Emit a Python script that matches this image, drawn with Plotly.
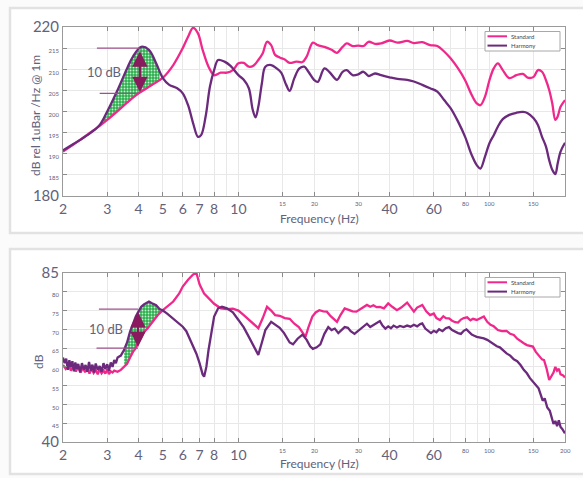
import numpy as np
import plotly.graph_objects as go

# ---------------- data: top chart (dB rel 1uBar/Hz @ 1m) ----------------
top_std_f = [2, 2.2, 2.5, 2.8, 3, 3.3, 3.6, 4, 4.5, 5, 5.5, 6, 6.3, 6.6, 6.9, 7.2, 7.6, 8, 8.5, 9,
             9.5, 10, 10.5, 11, 11.5, 12, 12.5, 13, 13.5, 14, 14.6, 15.3, 16, 17, 18, 18.7, 19.8, 20.7,
             22, 23.5, 24.7, 26, 27, 28.5, 30, 31.5, 33, 35, 37, 40, 43, 47, 50, 54, 58, 62, 66, 70,
             75, 80, 85, 89, 92, 96, 100, 104, 108, 113, 120, 128, 136, 142, 150, 156, 162, 168, 173,
             178, 183, 187, 192, 200]
top_std_db = [190.5, 192.2, 194.5, 196.6, 198.0, 200.1, 202.1, 204.3, 206.2, 208.0, 211.0, 215.0, 217.7,
              219.8, 218.5, 214.6, 210.6, 208.6, 209.2, 209.2, 209.8, 211.4, 211.5, 210.6, 210.9, 212.2,
              213.8, 216.5, 215.7, 213.4, 212.8, 212.3, 211.5, 211.8, 211.7, 213.0, 216.3, 215.7, 215.3,
              214.6, 213.9, 215.3, 216.1, 215.5, 215.6, 215.5, 216.5, 216.0, 216.1, 216.8, 216.3, 216.7,
              216.2, 216.4, 215.7, 215.5, 214.2, 212.6, 210.2, 207.4, 203.9, 201.9, 201.5, 203.5, 207.4,
              210.2, 211.4, 209.8, 207.9, 208.6, 208.9, 208.0, 208.2, 209.8, 209.4, 207.4, 205.1, 201.9,
              198.0, 198.8, 201.1, 202.7]

top_har_f = [2, 2.2, 2.5, 2.8, 3, 3.3, 3.6, 3.8, 4.1, 4.4, 4.7, 5, 5.3, 5.7, 6, 6.3, 6.6, 6.9, 7.1, 7.4,
             7.7, 8, 8.3, 8.8, 9.3, 10, 10.5, 11, 11.4, 11.7, 12, 12.4, 12.8, 13.5, 14.2, 14.8, 15.5, 16,
             16.7, 17.5, 18.3, 19, 20, 20.7, 22, 23, 24.7, 26, 27, 28.5, 30, 31.5, 33, 35, 37, 40, 43, 47,
             50, 54, 58, 62, 66, 70, 75, 80, 85, 89, 92, 96, 100, 104, 108, 113, 120, 128, 136, 142, 150,
             156, 162, 168, 173, 178, 183, 187, 192, 200]
top_har_db = [190.8, 192.3, 194.4, 196.8, 200.0, 205.1, 210.2, 213.0, 215.3, 214.6, 211.4, 207.9, 206.3,
              205.5, 204.3, 201.5, 197.2, 194.0, 194.4, 198.8, 205.9, 209.8, 212.2, 211.8, 210.8, 208.6,
              207.5, 205.5, 200.4, 198.6, 201.1, 206.7, 210.6, 211.0, 210.2, 209.2, 206.3, 204.9, 207.9,
              210.2, 210.6, 209.4, 207.5, 207.0, 210.2, 209.4, 207.5, 209.4, 209.8, 208.6, 208.8, 209.4,
              208.4, 209.0, 208.6, 208.1, 207.7, 207.5, 207.1, 206.3, 205.5, 204.7, 202.7, 200.8, 197.6,
              194.0, 189.7, 187.3, 186.5, 189.3, 192.5, 194.4, 196.4, 198.2, 199.2, 199.7, 199.9, 199.6,
              198.4, 196.8, 194.0, 191.7, 188.5, 186.2, 185.2, 187.7, 190.5, 192.6]

# ---------------- data: bottom chart (dB) ----------------
bot_std_f = [2.0, 2.05, 2.1, 2.15, 2.2, 2.25, 2.3, 2.35, 2.4, 2.45, 2.5, 2.55, 2.6, 2.65, 2.7, 2.75, 2.8,
             2.85, 2.9, 2.95, 3.0, 3.05, 3.1, 3.15, 3.2, 3.3, 3.4, 3.5, 3.6, 3.7, 3.8, 3.9, 4.0, 4.1, 4.2,
             4.35, 4.5, 4.65, 4.8, 5.0, 5.2, 5.5, 5.8, 6.0, 6.3, 6.6, 6.8, 7.0, 7.3, 7.6, 8.0, 8.5, 9.0,
             9.5, 10.0, 10.5, 11, 11.5, 12, 12.5, 13, 13.5, 14, 14.6, 15.3, 16, 16.7, 17.4, 18.0, 18.5,
             19.0, 19.7, 20.3, 21, 21.8, 22.5, 23.3, 24, 24.7, 25.5, 26.5, 27.5, 28.5, 29.5, 30.5, 31.5,
             32.5, 33.5, 34.5, 35.5, 36.6, 38, 39.5, 41, 42.8, 44.5, 46, 47, 48.5, 50, 51.5, 53, 54, 56,
             58, 60, 61.5, 63.5, 65.5, 67, 69, 71, 73, 75, 77, 79, 81.5, 84, 86, 89, 92, 95, 98, 101, 104,
             108, 112, 117, 121, 125, 129, 133, 137, 141, 145, 149, 153, 158, 162, 165, 169, 173, 176,
             180, 183, 186, 189, 192, 196, 200]
bot_std_db = [60.5, 59.5, 60.8, 59.0, 60.2, 58.8, 60.0, 58.5, 59.8, 58.6, 59.6, 58.2, 59.5, 58.4, 59.2,
              58.0, 59.4, 58.3, 59.0, 58.2, 59.3, 58.1, 58.8, 58.5, 59.0, 58.7, 59.2, 60.0, 60.8, 62.5,
              64.0, 65.0, 66.8, 68.0, 69.2, 70.3, 71.6, 72.8, 74.0, 75.1, 76.0, 77.4, 79.5, 81.4, 83.2,
              84.6, 85.0, 82.0, 79.5, 78.3, 76.8, 75.6, 75.4, 75.5, 75.0, 73.8, 72.6, 71.6, 70.3, 73.0,
              76.0, 75.0, 73.8, 73.6, 73.0, 72.8, 71.5, 70.6, 69.2, 68.0, 70.5, 73.4, 74.5, 75.1, 74.8,
              74.7, 73.5, 72.8, 72.0, 73.8, 75.6, 75.2, 74.8, 74.7, 75.3, 75.9, 76.5, 76.0, 76.4, 75.9,
              76.0, 75.6, 76.9, 76.0, 75.1, 75.8, 76.5, 77.1, 75.9, 74.7, 75.8, 76.2, 76.5, 74.8, 73.8,
              74.2, 73.0, 72.5, 73.5, 73.0, 72.9, 72.3, 71.9, 71.8, 72.6, 73.0, 73.2, 72.4, 72.8, 72.5,
              73.0, 73.4, 72.0, 71.2, 70.8, 69.8, 69.5, 69.6, 68.8, 68.5, 67.5, 66.8, 66.3, 65.8, 65.6,
              65.4, 64.0, 62.7, 62.0, 61.8, 59.5, 56.5, 57.5, 58.5, 60.0, 59.0, 59.5, 58.0, 57.8, 57.2]

bot_har_f = [2.0, 2.03, 2.06, 2.09, 2.12, 2.15, 2.18, 2.21, 2.24, 2.27, 2.3, 2.34, 2.38, 2.42, 2.46, 2.5,
             2.54, 2.58, 2.62, 2.66, 2.7, 2.75, 2.8, 2.85, 2.9, 2.95, 3.0, 3.05, 3.1, 3.15, 3.2, 3.25, 3.3,
             3.4, 3.5, 3.6, 3.7, 3.8, 3.9, 4.0, 4.1, 4.2, 4.3, 4.4, 4.5, 4.6, 4.7, 4.85, 5.0, 5.2, 5.5,
             5.8, 6.0, 6.2, 6.5, 6.8, 7.0, 7.2, 7.3, 7.45, 7.6, 7.8, 8.0, 8.3, 8.6, 9.0, 9.5, 10, 10.5, 11,
             11.5, 12, 12.4, 12.8, 13.5, 14, 14.6, 15.2, 16.0, 16.5, 17.2, 18.0, 18.7, 19.3, 19.8, 20.5,
             21.2, 22.0, 22.8, 23.5, 24.2, 25.0, 25.7, 26.5, 27.3, 28.0, 29.0, 29.7, 30.5, 31.5, 32.5,
             33.5, 34.5, 35.5, 36.6, 37.5, 38.5, 39.5, 40.5, 41.5, 42.8, 44, 45.5, 47, 48.5, 50, 51.5, 53,
             54, 55.5, 57, 58.5, 60, 61.5, 63, 65, 67, 69, 71, 73, 75, 77, 79, 81, 83, 85, 87, 89, 92, 95,
             98, 101, 104, 107, 110, 113, 117, 121, 125, 129, 133, 137, 141, 145, 149, 153, 157, 160, 163,
             166, 170, 174, 177, 180, 183, 186, 189, 192, 195, 198, 200]
bot_har_db = [62.5, 61.0, 62.2, 59.2, 61.8, 60.0, 61.5, 58.8, 61.2, 59.5, 60.8, 58.6, 61.0, 59.3, 60.5,
              58.7, 61.3, 59.0, 60.6, 58.5, 60.9, 59.2, 60.2, 58.7, 61.0, 59.4, 60.7, 59.0, 61.2, 60.0,
              61.8, 61.0, 62.5, 63.0, 64.5, 66.5, 69.4, 71.5, 73.4, 74.8, 76.0, 76.6, 76.9, 77.4, 77.0,
              76.8, 76.4, 75.4, 75.0, 74.2, 72.9, 71.5, 70.7, 69.5, 66.5, 63.5, 61.0, 58.0, 57.4, 60.0,
              64.5, 69.5, 73.4, 75.6, 76.0, 75.6, 74.5, 72.5, 70.5, 68.0, 65.5, 63.2, 66.5, 69.8, 72.0,
              71.2, 70.4, 69.0, 66.5, 66.0, 67.5, 68.6, 67.2, 65.5, 64.8, 65.2, 66.0, 68.8, 70.6, 69.8,
              70.2, 69.0, 69.8, 70.6, 70.4, 69.5, 68.8, 69.4, 70.0, 70.8, 71.5, 70.6, 71.2, 71.8, 72.2,
              71.0, 70.2, 70.8, 70.3, 71.0, 70.5, 70.9, 70.6, 71.0, 70.7, 71.2, 70.8, 71.4, 71.6, 70.2,
              69.6, 69.0, 69.6, 69.2, 70.0, 69.5, 70.3, 70.6, 69.8, 69.3, 69.0, 68.8, 69.6, 70.0, 69.3,
              68.6, 68.3, 68.0, 67.8, 67.6, 67.2, 66.6, 66.0, 65.5, 65.2, 64.4, 63.6, 63.0, 62.0, 61.5,
              60.5, 59.2, 58.3, 57.0, 56.2, 55.2, 54.3, 52.5, 51.0, 51.6, 49.2, 48.3, 46.5, 44.8, 45.6,
              44.2, 45.8, 44.0, 43.5, 42.5, 42.3]

# ---------------- axis ticks ----------------
top_x_ticks = [2, 3, 4, 5, 6, 7, 8, 10, 15, 20, 30, 40, 60, 80, 100, 150]
bot_x_ticks = [2, 3, 4, 5, 6, 7, 8, 10, 15, 20, 30, 40, 60, 80, 100, 150, 200]
big_x_labels = [2, 3, 4, 5, 6, 7, 8, 10, 40, 60]
top_y_ticks = [180, 185, 190, 195, 200, 205, 210, 215, 220]
bot_y_ticks = [40, 45, 50, 55, 60, 65, 70, 75, 80, 85]
minor_x = [2, 3, 4, 5, 6, 7, 8, 9, 10, 20, 30, 40, 50, 60, 70, 80, 90, 100, 200]

PINK = "#f0288c"
PURPLE = "#6b2a7c"
MAROON = "#8a1a5e"
REFLINE = "#a0508e"
TXT = "#62627a"
FONT = "Lato"
W, H = 583, 478


def PX(x):
    return x / W


def PY(y):
    return 1 - y / H


def lab(v, big):
    s = str(v)
    return s if v in big else "<span style='font-size:6px'>%s</span>" % s


fig = go.Figure()


def add_fill(fu, du, fl, dl, fmin, fmax, xa, ya):
    g = np.exp(np.linspace(np.log(fmin), np.log(fmax), 80))
    u = np.interp(np.log(g), np.log(fu), du)
    lo = np.interp(np.log(g), np.log(fl), dl)
    xs = np.concatenate([g, g[::-1], g[:1]])
    ys = np.concatenate([u, lo[::-1], u[:1]])
    fig.add_trace(go.Scatter(
        x=xs, y=ys, mode="lines", fill="toself", line=dict(width=0),
        fillcolor="#2aae4c",
        fillpattern=dict(shape=".", bgcolor="#2aae4c", fgcolor="#c9f0d2", size=3, solidity=0.3,
                         fillmode="replace"),
        xaxis=xa, yaxis=ya, showlegend=False, hoverinfo="skip"))


# fills
add_fill(top_har_f, top_har_db, top_std_f, top_std_db, 2.75, 4.85, "x", "y")
add_fill(bot_har_f, bot_har_db, bot_std_f, bot_std_db, 3.5, 4.9, "x2", "y2")

# curves
for xa, ya, fs, ds, fh, dh in [("x", "y", top_std_f, top_std_db, top_har_f, top_har_db),
                               ("x2", "y2", bot_std_f, bot_std_db, bot_har_f, bot_har_db)]:
    shape = "spline" if xa == "x" else "linear"
    fig.add_trace(go.Scatter(x=fs, y=ds, mode="lines", name="Standard",
                             line=dict(color=PINK, width=2.3, shape=shape),
                             xaxis=xa, yaxis=ya, showlegend=False))
    fig.add_trace(go.Scatter(x=fh, y=dh, mode="lines", name="Harmony",
                             line=dict(color=PURPLE, width=2.3, shape=shape),
                             xaxis=xa, yaxis=ya, showlegend=False))

# reference lines for the 10 dB annotation
for xa, ya, x0s, x1, ys in [("x", "y", [2.73, 2.8], 4.05, [215.0, 204.3]),
                            ("x2", "y2", [2.78, 2.72], 3.98, [75.4, 65.0])]:
    for x0, yv in zip(x0s, ys):
        fig.add_trace(go.Scatter(x=[x0, x1], y=[yv, yv], mode="lines",
                                 line=dict(color=REFLINE, width=1.3),
                                 xaxis=xa, yaxis=ya, showlegend=False, hoverinfo="skip"))

annotations = []
# arrows
for xref, yref, fx, y0, y1 in [("x", "y", 4.05, 204.6, 214.6), ("x2", "y2", 3.98, 65.3, 75.0)]:
    annotations.append(dict(x=np.log10(fx), y=y0, ax=np.log10(fx), ay=y1, xref=xref, yref=yref,
                            axref=xref, ayref=yref, text="", showarrow=True, arrowhead=2,
                            startarrowhead=2, arrowside="end+start", arrowsize=1.4,
                            startarrowsize=1.4, arrowwidth=2.2, arrowcolor=MAROON))


def note(x, y, text, size, xref="paper", yref="paper", angle=0, xanchor="center",
         color=TXT):
    annotations.append(dict(x=x, y=y, xref=xref, yref=yref, text=text, textangle=angle,
                            xanchor=xanchor, yanchor="middle", showarrow=False,
                            font=dict(size=size, color=color, family=FONT)))


# 10 dB labels
note(np.log10(2.92), 209.4, "10 dB", 13, "x", "y")
note(np.log10(2.98), 70.0, "10 dB", 13, "x2", "y2")
# axis titles
for yy in [218, 463]:
    note(PX(319), PY(yy), "Frequency (Hz)", 12)
note(PX(36), PY(116), "dB rel 1uBar /Hz @ 1m", 12, angle=-90)
note(PX(38), PY(362), "dB", 12, angle=-90)

# small x tick labels (drawn as text at tick positions)
for xref, ticks, ylab in [("x", top_x_ticks, 203.5), ("x2", bot_x_ticks, 450)]:
    for v in ticks:
        if v not in big_x_labels:
            note(np.log10(v), PY(ylab), str(v), 6, xref, "paper")

shapes = []
# cards
for y0, y1 in [(8, 233), (249, 474)]:
    shapes.append(dict(type="rect", xref="paper", yref="paper", x0=PX(10), x1=PX(600),
                       y0=PY(y1), y1=PY(y0), line=dict(color="#e2e2e2", width=2.5),
                       fillcolor="white", layer="below"))

# legends (drawn)
for top in [31.5, 277.5]:
    shapes.append(dict(type="rect", xref="paper", yref="paper", x0=PX(485), x1=PX(560),
                       y0=PY(top + 19.5), y1=PY(top), line=dict(color="#a8a8a8", width=1),
                       fillcolor="white"))
    for i, (nm, col) in enumerate([("Standard", PINK), ("Harmony", PURPLE)]):
        yy = top + 4.8 + i * 9.3
        shapes.append(dict(type="line", xref="paper", yref="paper", x0=PX(487.5), x1=PX(507),
                           y0=PY(yy), y1=PY(yy), line=dict(color=col, width=2)))
        note(PX(509), PY(yy), nm, 6, xanchor="left", color="#444444")


def xaxis_cfg(ticks, anchor):
    return dict(type="log", range=[np.log10(2), np.log10(200)], domain=[PX(63), PX(565)],
                anchor=anchor, tickvals=ticks,
                ticktext=[str(v) if v in big_x_labels else "" for v in ticks],
                tickfont=dict(size=14, color=TXT, family=FONT), ticks="inside", ticklen=4,
                tickcolor="#8a8a8a", showline=True, linecolor="#9a9a9a", linewidth=1,
                mirror="ticks", showgrid=True, gridcolor="#e8e8e8", automargin=False,
                minor=dict(tickvals=minor_x, showgrid=True, gridcolor="#e8e8e8", ticks=""),
                zeroline=False, fixedrange=True)


def yaxis_cfg(ticks, rng, big, dom, anchor):
    return dict(range=rng, domain=dom, anchor=anchor, tickvals=ticks,
                ticktext=[lab(v, big) for v in ticks], automargin=False,
                tickfont=dict(size=15, color=TXT, family=FONT), ticks="inside", ticklen=4,
                tickcolor="#8a8a8a", showline=True, linecolor="#9a9a9a", linewidth=1,
                mirror="ticks", showgrid=True, gridcolor="#e8e8e8", zeroline=False,
                fixedrange=True)


fig.update_layout(
    template="none",
    width=W, height=H, margin=dict(l=0, r=0, t=0, b=0, autoexpand=False),
    paper_bgcolor="#fbfbfb", plot_bgcolor="rgba(0,0,0,0)",
    font=dict(family=FONT, color=TXT),
    showlegend=False,
    xaxis=xaxis_cfg(top_x_ticks, "y"),
    yaxis=yaxis_cfg(top_y_ticks, [180, 220], [180, 220], [PY(196), PY(27)], "x"),
    xaxis2=xaxis_cfg(bot_x_ticks, "y2"),
    yaxis2=yaxis_cfg(bot_y_ticks, [40, 85], [40, 85], [PY(442), PY(273)], "x2"),
    shapes=shapes, annotations=annotations,
)

fig.write_html("out.html", config={"displayModeBar": False},
               post_script="document.body.style.margin='0';document.body.style.overflow='hidden';")
